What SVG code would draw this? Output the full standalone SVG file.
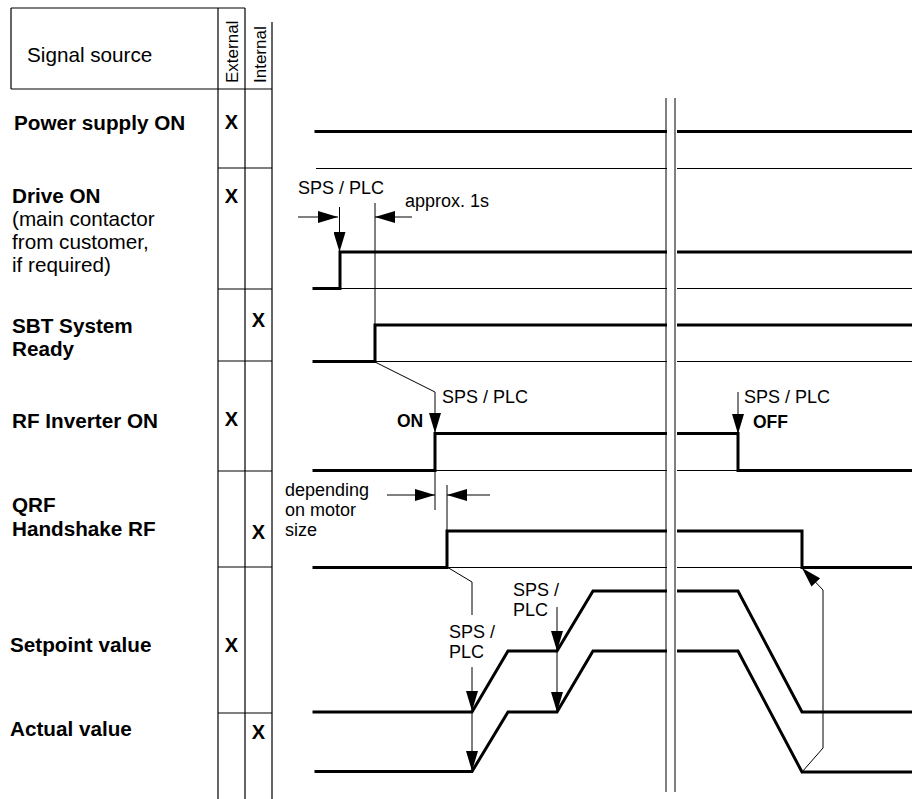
<svg xmlns="http://www.w3.org/2000/svg" width="912" height="799" viewBox="0 0 912 799">
<style>
text{font-family:"Liberation Sans",Arial,sans-serif;fill:#000}
.lbl{font-size:20.7px;font-weight:bold}
.reg{font-size:20.7px}
.ann{font-size:18px}
.annb{font-size:17.5px;font-weight:bold}
.x{font-size:20px;font-weight:bold;text-anchor:middle}
.vt{font-size:17px}
.grid{stroke:#000;stroke-width:1.2;fill:none}
.thin{stroke:#000;stroke-width:1;fill:none}
.sig{stroke:#000;stroke-width:3;fill:none;stroke-linejoin:miter;stroke-linecap:square}
.arr{stroke:#000;stroke-width:1;fill:none}
</style>
<defs>
<marker id="ah" markerUnits="userSpaceOnUse" markerWidth="20" markerHeight="12" refX="20" refY="6" orient="auto">
<path d="M0,0 L20,6 L0,12 z" fill="#000"/>
</marker>
</defs>
<rect width="912" height="799" fill="#fff"/>

<g id="table">
<path class="grid" d="M11,8 H245 M11,8 V89 M11,89 H272 M218,8 V799 M245,8 V799 M272,22 V799"/>
<path class="grid" d="M218,168 H272 M218,289 H272 M218,361 H272 M218,471 H272 M218,567 H272 M218,713 H272"/>
<text class="reg" x="27" y="62">Signal source</text>
<text class="vt" transform="translate(238,83) rotate(-90)">External</text>
<text class="vt" transform="translate(266,83) rotate(-90)">Internal</text>
</g>

<g id="row-power">
<text class="lbl" x="14" y="130">Power supply ON</text>
<text class="x" x="231.5" y="129">X</text>
</g>
<g id="row-drive">
<text class="lbl" x="12" y="203">Drive ON</text>
<text class="reg" x="12" y="226">(main contactor</text>
<text class="reg" x="12" y="249">from customer,</text>
<text class="reg" x="12" y="272">if required)</text>
<text class="x" x="231.5" y="203">X</text>
</g>
<g id="row-sbt">
<text class="lbl" x="12" y="333">SBT System</text>
<text class="lbl" x="12" y="356">Ready</text>
<text class="x" x="258.5" y="327">X</text>
</g>
<g id="row-rf">
<text class="lbl" x="12" y="428">RF Inverter ON</text>
<text class="x" x="231.5" y="426">X</text>
</g>
<g id="row-qrf">
<text class="lbl" x="12" y="512">QRF</text>
<text class="lbl" x="12" y="536">Handshake RF</text>
<text class="x" x="258.5" y="539">X</text>
</g>
<g id="row-setpoint">
<text class="lbl" x="10" y="652">Setpoint value</text>
<text class="x" x="231.5" y="652">X</text>
</g>
<g id="row-actual">
<text class="lbl" x="10" y="736">Actual value</text>
<text class="x" x="258.5" y="739">X</text>
</g>

<g id="signals">
<path class="thin" d="M316,168.5 H912 M340,288.5 H912 M375,361.5 H912 M435,470.5 H738 M447,567.5 H802"/>
<path class="sig" d="M316,131.5 H912"/>
<path class="sig" d="M314,288.5 H340 V252 H912"/>
<path class="sig" d="M314,361.5 H375 V325 H912"/>
<path class="sig" d="M314,470.5 H435 V433.5 H738 V470.5 H912"/>
<path class="sig" d="M314,567.5 H447 V531 H802 V567.5 H912"/>
<path class="sig" d="M314,712 H472 L508,651 H557 L593,591 H738 L802,712 H912"/>
<path class="sig" d="M316,771.5 H472 L508,712 H557 L593,651 H738 L802,772 H912"/>
</g>

<g id="break">
<rect x="667" y="90" width="10" height="705" fill="#fff"/>
<path class="thin" d="M666,98 V792 M675,98 V792"/>
</g>

<g id="connectors">
<path class="arr" d="M298,217 H338" marker-end="url(#ah)"/>
<path class="arr" d="M339.5,207 V252" marker-end="url(#ah)"/>
<path class="arr" d="M375,203 V362"/>
<path class="arr" d="M412,217 H375" marker-end="url(#ah)"/>
<path class="arr" d="M375,362 L435,392 V433" marker-end="url(#ah)"/>
<path class="arr" d="M738,392 V434" marker-end="url(#ah)"/>
<path class="arr" d="M435,470 V510"/>
<path class="arr" d="M387,495 H435" marker-end="url(#ah)"/>
<path class="arr" d="M447,485 V531"/>
<path class="arr" d="M490,495 H447" marker-end="url(#ah)"/>
<path class="arr" d="M447,567 L472,582 V615"/>
<path class="arr" d="M472,667 V711" marker-end="url(#ah)"/>
<path class="arr" d="M472,711 V771" marker-end="url(#ah)"/>
<path class="arr" d="M557,607 V651" marker-end="url(#ah)"/>
<path class="arr" d="M557,651 V712" marker-end="url(#ah)"/>
<path class="arr" d="M802,772 L823,748 V590 L802,568" marker-end="url(#ah)"/>
</g>

<g id="annotations">
<text class="ann" x="298" y="194">SPS / PLC</text>
<text class="ann" x="405" y="207">approx. 1s</text>
<text class="ann" x="442" y="403">SPS / PLC</text>
<text class="annb" x="397" y="427">ON</text>
<text class="ann" x="744" y="403">SPS / PLC</text>
<text class="annb" x="753" y="428">OFF</text>
<text class="ann" x="285" y="496">depending</text>
<text class="ann" x="285" y="516">on motor</text>
<text class="ann" x="285" y="536">size</text>
<text class="ann" x="449" y="638">SPS /</text>
<text class="ann" x="449" y="658">PLC</text>
<text class="ann" x="513" y="596">SPS /</text>
<text class="ann" x="513" y="616">PLC</text>
</g>
</svg>
